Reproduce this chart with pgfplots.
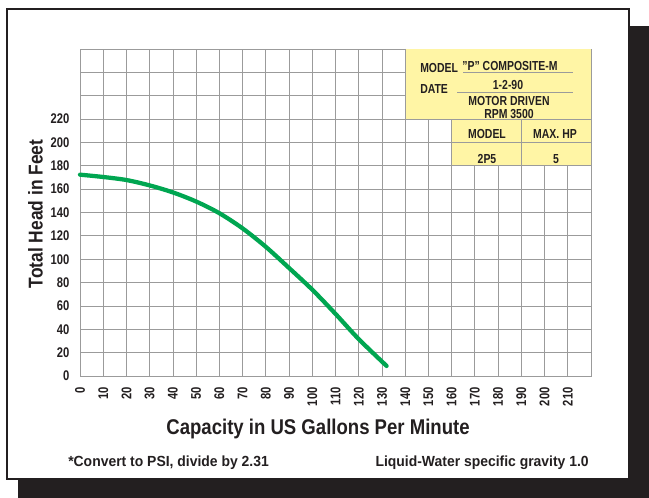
\documentclass[border=0pt]{standalone}
\usepackage{fontspec}
\setmainfont{Liberation Sans}[FakeStretch=0.8]
\newfontfamily\fLab[FakeStretch=0.87]{Liberation Sans}
\newfontfamily\fFoot[FakeStretch=0.95]{Liberation Sans}
\usepackage{pgfplots}
\pgfplotsset{compat=1.18}
\definecolor{pgreen}{RGB}{0,166,81}
\definecolor{pyellow}{RGB}{255,245,165}
\definecolor{pgrid}{RGB}{155,155,155}
\definecolor{pdark}{RGB}{35,31,32}
\begin{document}
\begin{tikzpicture}[x=0.75pt,y=0.75pt]
\useasboundingbox (0,0) rectangle (649,-498);
\fill[pdark] (18,-26) rectangle (649,-498);
\fill[white] (6,-8) rectangle (630,-480);
\draw[pdark, line width=1.5pt] (6.75,-8.75) rectangle (629.25,-479.25);
\begin{axis}[
  at={(60pt,-282pt)}, anchor=south west,
  scale only axis, width=383.25pt, height=245.25pt,
  xmin=0, xmax=220, ymin=0, ymax=280,
  xtick={0,10,...,210}, ytick={0,20,...,220},
  extra y ticks={240,260}, extra y tick labels={},
  extra y tick style={grid=major},
  grid=major,
  grid style={pgrid, line width=0.6pt},
  axis line style={pgrid, line width=0.6pt},
  major tick length=0pt,
  /pgf/number format/assume math mode=true,
  ticklabel style={font=\fontsize{10.5}{12}\selectfont\bfseries, text=pdark},
  xticklabel style={rotate=90, anchor=east},
  yticklabel style={anchor=east},
  xticklabel shift=5pt,
  yticklabel shift=4.5pt,
  clip=false,
]
\fill[pyellow] (axis cs:140,220) rectangle (axis cs:220,280);
\fill[pyellow] (axis cs:160,180) rectangle (axis cs:220,220);
\draw[pgrid, line width=0.6pt] (axis cs:140,280) -- (axis cs:140,220) -- (axis cs:220,220);
\draw[pgrid, line width=0.6pt] (axis cs:160,220) -- (axis cs:160,180) -- (axis cs:220,180);
\draw[pgrid, line width=0.6pt] (axis cs:190,220) -- (axis cs:190,180);
\draw[pgrid, line width=0.6pt] (axis cs:160,200) -- (axis cs:220,200);
\draw[pgrid, line width=0.6pt] (axis cs:220,180) -- (axis cs:220,280);
\addplot[pgreen, line width=3.2pt, smooth, line cap=round] coordinates {
(0,172.4) (10,170.4) (20,167.8) (30,163.2) (40,157.2) (50,149.4) (60,139.4)
(70,126.4) (80,110.6) (90,92.5) (100,73.9) (110,53.2) (120,31.6) (132,8.6)};
\end{axis}
\begin{scope}[every node/.style={inner sep=0pt, text=pdark, font=\fontsize{9.8}{11}\selectfont\bfseries}]
\node[anchor=base west] at (420,-72.3) {MODEL};
\node[anchor=base] at (510,-70.7) {"P" COMPOSITE-M};
\node[anchor=base west] at (420,-93.3) {DATE};
\node[anchor=base] at (508,-90) {1-2-90};
\node[anchor=base] at (509,-106) {MOTOR DRIVEN};
\node[anchor=base] at (509,-119) {RPM 3500};
\node[anchor=base] at (487,-139) {MODEL};
\node[anchor=base] at (555,-139) {MAX. HP};
\node[anchor=base] at (487,-163.3) {2P5};
\node[anchor=base] at (556,-163.3) {5};
\end{scope}
\draw[pgrid, line width=0.75pt] (463,-72.9) -- (573,-72.9);
\draw[pgrid, line width=0.75pt] (457,-92.3) -- (573,-92.3);
\node[rotate=90, inner sep=0pt, text=pdark, font=\fLab\fontsize{15}{17}\selectfont\bfseries] at (35.5,-214) {Total Head in Feet};
\node[anchor=base, inner sep=0pt, text=pdark, font=\fLab\fontsize{16}{18}\selectfont\bfseries] at (318,-435) {Capacity in US Gallons Per Minute};
\node[anchor=base west, inner sep=0pt, text=pdark, font=\fFoot\fontsize{11}{13}\selectfont\bfseries] at (68,-466.7) {*Convert to PSI, divide by 2.31};
\node[anchor=base east, inner sep=0pt, text=pdark, font=\fFoot\fontsize{11}{13}\selectfont\bfseries] at (589,-466.7) {Liquid-Water specific gravity 1.0};
\end{tikzpicture}
\end{document}
